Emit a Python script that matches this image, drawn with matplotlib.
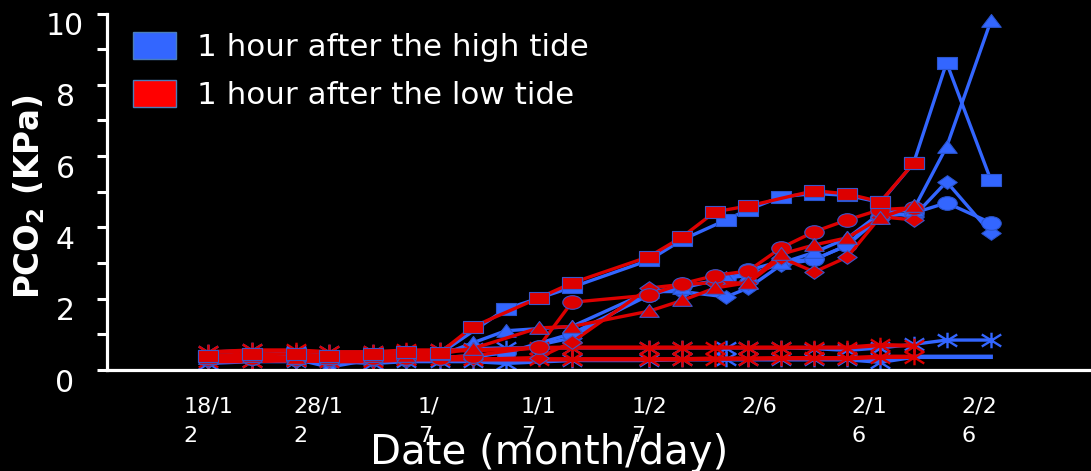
import numpy as np
import pandas as pd
import matplotlib
matplotlib.use("Agg")
import matplotlib.pyplot as plt
from matplotlib.path import Path
from matplotlib.patches import Patch
from matplotlib.transforms import ScaledTranslation

# ---------------- data ----------------
blue_dates = ["2012-12-18", "2012-12-22", "2012-12-26", "2012-12-29", "2013-01-02", "2013-01-05",
              "2013-01-08", "2013-01-11", "2013-01-14", "2013-01-20", "2013-01-27", "2013-01-30",
              "2013-02-03", "2013-02-05", "2013-02-08", "2013-02-11", "2013-02-14", "2013-02-17",
              "2013-02-20", "2013-02-23", "2013-02-27"]
nan = np.nan
blue_square = [0.40, 0.45, 0.40, 0.35, 0.40, 0.45, 0.45, nan, 1.71, 2.32, 3.08, 3.65, 4.21, 4.50,
               4.86, 4.95, 4.90, 4.70, 5.80, 8.62, 5.34]
blue_triangle = [0.35, 0.40, 0.30, 0.08, 0.30, 0.35, 0.40, 0.76, 1.10, 1.22, 2.20, 2.30, 2.58, 2.65,
                 3.00, 3.30, 3.70, 4.40, 4.50, 6.26, 9.78]
blue_circle = [0.30, 0.35, 0.30, 0.30, 0.30, 0.30, 0.35, 0.40, 0.48, 1.02, 2.10, 2.35, 2.55, 2.80,
               3.05, 3.10, 3.50, 4.30, 4.40, 4.69, 4.13]
blue_diamond = [0.25, 0.30, 0.25, 0.25, 0.25, 0.25, 0.30, 0.35, 0.50, 0.90, 2.20, 2.20, 2.05, 2.30,
                2.95, 3.10, 3.50, 4.45, 4.30, 5.28, 3.85]
blue_star = [0.50, 0.55, 0.50, 0.50, 0.50, 0.50, 0.55, 0.60, 0.62, 0.62, 0.62, 0.62, 0.62, 0.62,
             0.62, 0.60, 0.55, 0.62, 0.72, 0.84, 0.84]
blue_x = [0.20, 0.25, 0.25, 0.25, 0.20, 0.25, 0.25, 0.25, 0.20, 0.28, 0.28, 0.30, 0.30, 0.30,
          0.30, 0.30, 0.30, 0.23, 0.37, 0.37, 0.37]

red_dates = ["2012-12-18", "2012-12-22", "2012-12-26", "2012-12-29", "2013-01-02", "2013-01-05",
             "2013-01-08", "2013-01-11", "2013-01-17", "2013-01-20", "2013-01-27", "2013-01-30",
             "2013-02-02", "2013-02-05", "2013-02-08", "2013-02-11", "2013-02-14", "2013-02-17",
             "2013-02-20"]
red_square = [0.40, 0.45, 0.45, 0.40, 0.45, 0.50, 0.48, 1.21, 2.02, 2.44, 3.18, 3.73, 4.44, 4.60,
              nan, 5.03, 4.94, 4.72, 5.80]
red_triangle = [0.35, 0.40, 0.35, 0.35, 0.40, 0.40, 0.45, 0.60, 1.18, 1.22, 1.65, 1.95, 2.30, 2.45,
                3.25, 3.51, 3.71, 4.27, 4.60]
red_circle = [0.30, 0.35, 0.30, 0.30, 0.35, 0.35, 0.35, 0.40, 0.65, 1.90, 2.10, 2.42, 2.65, 2.78,
              3.43, 3.88, 4.21, 4.50, 4.55]
red_diamond = [0.25, 0.30, 0.25, 0.25, 0.30, 0.30, 0.30, 0.30, 0.35, 0.78, 2.30, 2.40, 2.45, 2.44,
               3.15, 2.75, 3.17, 4.30, 4.21]
red_star = [0.50, 0.55, 0.55, 0.50, 0.50, 0.55, 0.55, 0.55, 0.62, 0.63, 0.63, 0.63, 0.63, 0.63,
            0.63, 0.63, 0.63, 0.70, 0.68]
red_x = [0.25, 0.25, 0.28, 0.25, 0.25, 0.30, 0.30, 0.30, 0.30, 0.30, 0.30, 0.30, 0.32, 0.32,
         0.33, 0.33, 0.33, 0.37, 0.37]

tick_dates = ["2012-12-18", "2012-12-28", "2013-01-07", "2013-01-17", "2013-01-27",
              "2013-02-06", "2013-02-16", "2013-02-26"]
tick_labels = ["18/1\n2", "28/1\n2", "1/\n7", "1/1\n7", "1/2\n7", "2/6", "2/1\n6", "2/2\n6"]
legend_labels = ["1 hour after the high tide", "1 hour after the low tide"]

# ---------------- style ----------------
BLUE = "#3366ff"
RED = "#dd0000"
EDGE_RED = "#3c55c8"
WHITE = "white"

plt.rcParams["font.family"] = ["DejaVu Sans"]

# stretched marker paths (wide aspect, as in the reference)
M, L, C = Path.MOVETO, Path.LINETO, Path.CLOSEPOLY
sq = Path([(-1, -0.66), (1, -0.66), (1, 0.66), (-1, 0.66), (-1, -0.66)], [M, L, L, L, C])
tri = Path([(-1, -0.6), (1, -0.6), (0, 0.72), (-1, -0.6)], [M, L, L, C])
uc = Path.unit_circle()
ell = Path(uc.vertices * np.array([1.0, 0.7]), uc.codes)
dia = Path([(-1, 0), (0, 0.7), (1, 0), (0, -0.7), (-1, 0)], [M, L, L, L, C])
star = Path([(-1, -0.62), (1, 0.62), (-1, 0.62), (1, -0.62), (0, -0.8), (0, 0.8)],
            [M, L, M, L, M, L])

fig = plt.figure(figsize=(10.91, 4.71), dpi=100, facecolor="black")
ax = fig.add_axes([107 / 1091, 1 - 370 / 471, 1 - 107 / 1091, (370 - 13.5) / 471])
ax.set_facecolor("black")

d0 = pd.Timestamp("2012-12-18")
ax.set_xlim(d0 - pd.Timedelta(days=9.17), d0 + pd.Timedelta(days=80.1))
ax.set_ylim(0, 10)


def draw(dates, vals, color, marker, edge, filled=True, mew=0.8, ms=14, lw=2.4, markevery=None):
    x = pd.to_datetime(pd.Series(dates))
    y = np.array(vals, dtype=float)
    m = ~np.isnan(y)
    kw = dict(color=color, lw=lw, marker=marker, ms=ms, solid_joinstyle="round",
              markevery=markevery)
    if filled:
        kw.update(markerfacecolor=color, markeredgecolor=edge, markeredgewidth=mew)
    else:
        kw.update(markerfacecolor="none", markeredgecolor=color, markeredgewidth=1.7)
    ax.plot(x[m], y[m], **kw)


n_b = len(blue_dates)
draw(blue_dates, blue_x, BLUE, star, BLUE, filled=False, lw=3.2, markevery=list(range(n_b - 3)))
draw(blue_dates, blue_star, BLUE, star, BLUE, filled=False)
draw(blue_dates, blue_diamond, BLUE, dia, "#2a55d0")
draw(blue_dates, blue_circle, BLUE, ell, "#2a55d0")
draw(blue_dates, blue_triangle, BLUE, tri, "#2a55d0")
draw(blue_dates, blue_square, BLUE, sq, "#2a55d0")

draw(red_dates, red_x, RED, star, RED, filled=False, lw=3.2)
draw(red_dates, red_star, RED, star, RED, filled=False, lw=3.0)
draw(red_dates, red_diamond, RED, dia, EDGE_RED)
draw(red_dates, red_circle, RED, ell, EDGE_RED)
draw(red_dates, red_triangle, RED, tri, EDGE_RED)
draw(red_dates, red_square, RED, sq, EDGE_RED)

# ---------------- axes styling ----------------
for s in ["top", "right"]:
    ax.spines[s].set_visible(False)
ax.spines["left"].set_color(WHITE)
ax.spines["left"].set_linewidth(2.3)
ax.spines["bottom"].set_color(WHITE)
ax.spines["bottom"].set_linewidth(2.3)

ax.set_yticks(np.arange(0, 11, 2))
ax.set_yticks(np.arange(1, 10, 2), minor=True)
ax.tick_params(axis="y", which="both", direction="out", length=7.2, width=2.2, color=WHITE,
               labelcolor=WHITE, labelsize=21.5, pad=23)
for lbl in ax.get_yticklabels():
    lbl.set_horizontalalignment("center")
    lbl.set_transform(lbl.get_transform() + ScaledTranslation(0, -0.10, fig.dpi_scale_trans))

tick_pos = pd.to_datetime(pd.Series(tick_dates))
ax.set_xticks(tick_pos)
ax.set_xticklabels(tick_labels, multialignment="left", linespacing=1.6)
ax.set_xticks(tick_pos + pd.Timedelta(days=1.2), minor=True)
ax.tick_params(axis="x", which="major", length=0, labelcolor=WHITE, labelsize=16, pad=19)
ax.tick_params(axis="x", which="minor", direction="in", length=2.5, width=1.5, color="black")

ax.set_ylabel(r"PCO$_\mathbf{2}$ (KPa)", color=WHITE, fontsize=23.5, fontweight="bold")
ax.yaxis.set_label_coords(-60 / 984, 0.485)

fig.text(549 / 1091, 7 / 471, "Date (month/day)", color=WHITE, fontsize=29, ha="center",
         va="baseline")

handles = [Patch(facecolor="#3366ff", edgecolor="#4a7ebb", linewidth=1.0),
           Patch(facecolor="#ff0000", edgecolor="#4a7ebb", linewidth=1.0)]
leg = fig.legend(handles, legend_labels, loc="upper left",
                 bbox_to_anchor=(127 / 1091, 1 - 26 / 471),
                 frameon=False, fontsize=22.3, labelcolor=WHITE, handlelength=1.39,
                 handleheight=0.97, handletextpad=0.68, labelspacing=0.56, borderaxespad=0,
                 borderpad=0.2)

fig.savefig("out.png", dpi=100, facecolor="black")
